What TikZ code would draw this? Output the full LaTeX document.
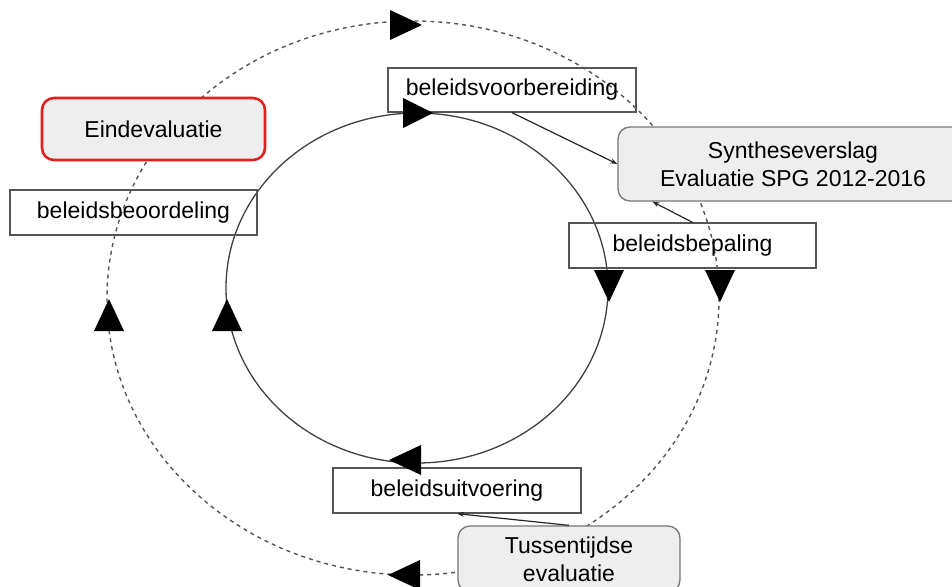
\documentclass[tikz,border=0pt]{standalone}
\usepackage{fontspec}
\setmainfont{Liberation Sans}
\usetikzlibrary{arrows.meta,calc}
\definecolor{boxgray}{HTML}{EEEEEE}
\definecolor{edge}{HTML}{555555}
\definecolor{redline}{HTML}{E02020}
\tikzset{
  plainbox/.style={draw=edge, line width=1.3pt, rectangle, minimum width=248pt, minimum height=45pt, inner sep=0pt, font=\fontsize{23}{28}\selectfont},
  greybox/.style={draw=edge!80, fill=boxgray, line width=1.3pt, rectangle, rounded corners=12pt, inner sep=0pt, align=center, font=\fontsize{23}{28}\selectfont},
  link/.style={draw=black!85, line width=1.2pt, -{Stealth[length=7pt,width=5pt]}},
  outerring/.style={draw=edge, line width=1.4pt, dash pattern=on 4pt off 4pt},
  innerring/.style={draw=black!75, line width=1.3pt},
  tip/.style={fill=black}
}
\begin{document}
\begin{tikzpicture}[x=1pt,y=-1pt]
\useasboundingbox (0,0) rectangle (952,586);
\clip (0,0) rectangle (952,586);
% rings
\draw[outerring] (413,298) ellipse [x radius=306, y radius=277];
\draw[innerring] (417,288) ellipse [x radius=191, y radius=175];
% filled boxes
\node[greybox, draw=redline, line width=2.6pt, minimum width=223pt, minimum height=62pt] (eind) at (153.5,129) {Eindevaluatie};
\node[greybox, minimum width=350pt, minimum height=74pt] (syn) at (793,164) {Syntheseverslag\\Evaluatie SPG 2012-2016};
\node[greybox, minimum width=222pt, minimum height=66pt] (tus) at (569,559) {Tussentijdse\\evaluatie};
% plain boxes
\node[plainbox, minimum height=44pt] (bv) at (512,90) {beleidsvoorbereiding};
\node[plainbox, minimum width=247pt] (bo) at (133.5,212.5) {beleidsbeoordeling};
\node[plainbox, minimum width=247pt] (bp) at (692.5,245.5) {beleidsbepaling};
\node[plainbox] (bu) at (457,490.5) {beleidsuitvoering};
% connectors
\draw[link] (bv.south) -- (syn.west);
\draw[link] (bp.north) -- ($(syn.south west)+(35,0)$);
\draw[link] (tus.north) -- (bu.south);
% ring arrowheads
\fill[tip] (422,25) -- (390,10) -- (390,40) -- cycle;
\fill[tip] (433,113) -- (403,98) -- (403,128) -- cycle;
\fill[tip] (609,302) -- (594,270) -- (624,270) -- cycle;
\fill[tip] (720,302) -- (705,270) -- (735,270) -- cycle;
\fill[tip] (389,460) -- (421,445) -- (421,475) -- cycle;
\fill[tip] (388,575) -- (420,560) -- (420,590) -- cycle;
\fill[tip] (109,299) -- (94,331) -- (124,331) -- cycle;
\fill[tip] (227,299) -- (212,331) -- (242,331) -- cycle;
\end{tikzpicture}
\end{document}
